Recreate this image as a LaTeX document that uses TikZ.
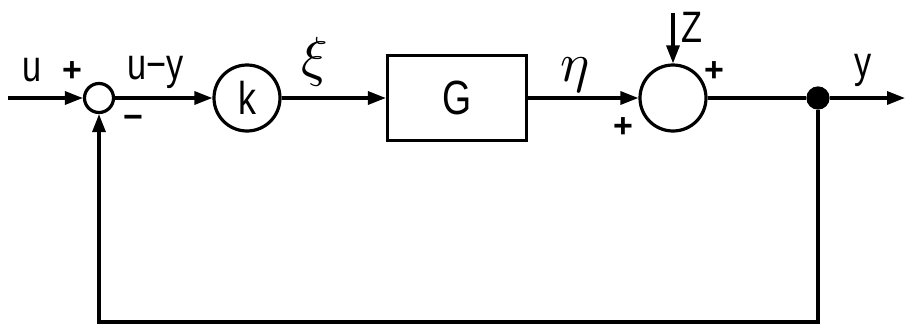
\documentclass[tikz,border=0pt]{standalone}
\usepackage{fontspec}
\usepackage{unicode-math}
\setmainfont{Liberation Sans}[FakeStretch=0.78]
\newfontfamily\signfont{Liberation Sans}
\usetikzlibrary{arrows.meta}

\begin{document}
\begin{tikzpicture}[x=1pt, y=-1pt,
	every path/.style={line width=3.2pt},
	sumnode/.style={circle, draw, minimum size=29pt, inner sep=0pt},
	bignode/.style={circle, draw, minimum size=66pt, inner sep=0pt, font=\fontsize{46}{50}\selectfont},
	block/.style={rectangle, draw, minimum width=139pt, minimum height=85pt, inner sep=0pt, font=\fontsize{48}{52}\selectfont},
	dot/.style={circle, fill=black, draw, minimum size=20pt, inner sep=0pt},
	lbl/.style={inner sep=0pt, font=\fontsize{44}{50}\selectfont},
	greek/.style={inner sep=0pt, font=\fontsize{55}{60}\selectfont},
	sgn/.style={inner sep=0pt, font=\signfont\bfseries\fontsize{34}{40}\selectfont},
	sig/.style={-{Triangle[length=18pt, width=13pt]}}]
	\useasboundingbox (0,0) rectangle (906,327);
	% blocks
	\node[sumnode] (s1) at (99,98) {};
	\node[bignode] (k) at (247,98) {k};
	\node[block] (g) at (457,98) {G};
	\node[bignode] (s2) at (673,98) {};
	\node[dot] (br) at (818,98) {};
	\coordinate (in) at (8,98);
	\coordinate (out) at (905,98);
	\coordinate (zin) at (673,13);
	\coordinate (fb) at (99,322);
	% signals
	\draw[sig] (in) -- (s1);
	\draw[sig] (s1) -- (k);
	\draw[sig] (k) -- (g);
	\draw[sig] (g) -- (s2);
	\draw (s2) -- (br);
	\draw[sig] (br) -- (out);
	\draw[sig] (zin) -- (s2);
	\draw[sig] (br) |- (fb) -- (s1);
	% labels
	\node[lbl] (lu) at (32,70) {u};
	\node[sgn] (p1) at (72,72) {+};
	\node[lbl] (luy) at (156,72) {u−y};
	\node[sgn] (m1) at (133,122) {−};
	\node[greek] (lxi) at (315,62) {$\xi$};
	\node[greek] (leta) at (575,75) {$\eta$};
	\node[sgn] (p2) at (623,128) {+};
	\node[lbl] (lz) at (692,27) {Z};
	\node[sgn] (p3) at (714,72) {+};
	\node[lbl] (ly) at (863,70) {y};
\end{tikzpicture}
\end{document}
